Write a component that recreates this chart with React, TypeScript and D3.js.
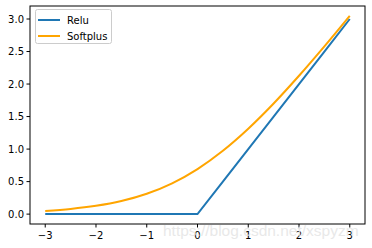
import React from "react";
import * as d3 from "d3";

const xs = [-3, -2.5, -2, -1.5, -1, -0.5, 0, 0.5, 1, 1.5, 2, 2.5, 3];
const relu = [0, 0, 0, 0, 0, 0, 0, 0.5, 1, 1.5, 2, 2.5, 3];
const softplus = [0.049, 0.079, 0.127, 0.201, 0.313, 0.474, 0.693, 0.974, 1.313, 1.701, 2.127, 2.579, 3.049];
const xTicks = [-3, -2, -1, 0, 1, 2, 3];
const yTicks = [0, 0.5, 1, 1.5, 2, 2.5, 3];
const seriesNames = ["Relu", "Softplus"];
const colors = ["#1f77b4", "#ffa500"];

export default function App() {
  const W = 372, H = 248;
  const left = 30, right = 365, top = 6, bottom = 224;
  const x = d3.scaleLinear().domain([-3.3, 3.3]).range([left, right]);
  const y = d3.scaleLinear().domain([-0.152, 3.2]).range([bottom, top]);
  const lineRelu = d3.line<number>().x((_, i) => x(xs[i])).y((d) => y(d));
  const lineSoft = d3
    .line<number>()
    .x((_, i) => x(xs[i]))
    .y((d) => y(d))
    .curve(d3.curveMonotoneX);
  const font = "DejaVu Sans, sans-serif";
  return (
    <svg width={W} height={H} style={{ position: "absolute", left: 0, top: 0 }} fontFamily={font}>
      <rect x={0} y={0} width={W} height={H} fill="#fff" />
      <path d={lineRelu(relu) || ""} fill="none" stroke={colors[0]} strokeWidth={2} />
      <path d={lineSoft(softplus) || ""} fill="none" stroke={colors[1]} strokeWidth={2} />
      <rect x={left} y={top} width={right - left} height={bottom - top} fill="none" stroke="#000" strokeWidth={1} />
      {xTicks.map((t) => (
        <g key={"x" + t}>
          <line x1={x(t)} x2={x(t)} y1={bottom} y2={bottom + 3.5} stroke="#000" />
          <text x={x(t)} y={bottom + 15} fontSize={10} textAnchor="middle" fill="#000">
            {t < 0 ? "\u2212" + Math.abs(t) : String(t)}
          </text>
        </g>
      ))}
      {yTicks.map((t) => (
        <g key={"y" + t}>
          <line x1={left - 3.5} x2={left} y1={y(t)} y2={y(t)} stroke="#000" />
          <text x={left - 6} y={y(t) + 3.6} fontSize={10} textAnchor="end" fill="#000">
            {t.toFixed(1)}
          </text>
        </g>
      ))}
      <g>
        <rect x={35.5} y={9.5} width={76} height={34} rx={2} fill="#fff" fillOpacity={0.8} stroke="#ccc" />
        {seriesNames.map((n, i) => (
          <g key={n}>
            <line x1={38} x2={60} y1={20 + i * 16} y2={20 + i * 16} stroke={colors[i]} strokeWidth={2} />
            <text x={67} y={23.6 + i * 16} fontSize={10} fill="#000">
              {n}
            </text>
          </g>
        ))}
      </g>
      <text x={163} y={236} fontSize={15.5} fill="#e4e4e4" fillOpacity={0.85} fontFamily="Liberation Sans, Arial, sans-serif">
        https://blog.csdn.net/xspyzm
      </text>
    </svg>
  );
}
